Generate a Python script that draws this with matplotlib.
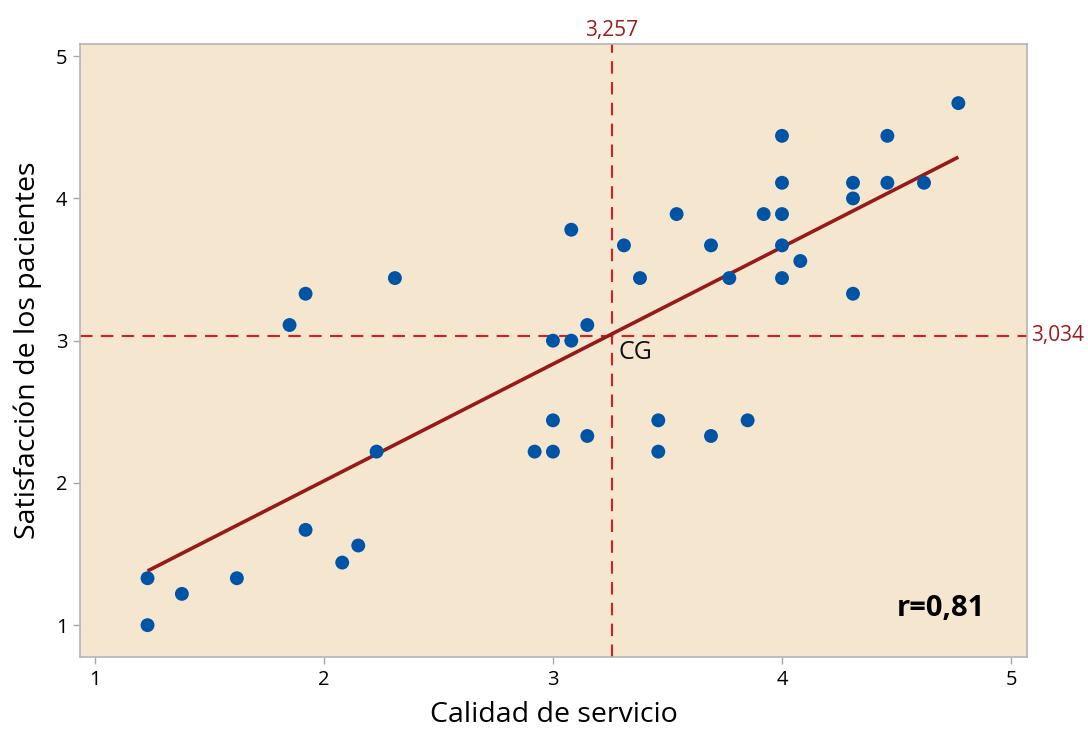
"""
Dispersion: Calidad de servicio vs Satisfaccion de los pacientes
"""

import numpy as np
import matplotlib

matplotlib.use("Agg")
import matplotlib.pyplot as plt

plt.rcParams["font.family"] = ["Open Sans", "DejaVu Sans"]

# Data
calidad = [
    1.23, 1.23, 1.38, 1.62, 1.85, 1.92, 1.92, 2.08, 2.15, 2.23, 2.31,
    2.92, 3.00, 3.00, 3.00, 3.08, 3.08, 3.15, 3.15, 3.31, 3.38, 3.46,
    3.46, 3.54, 3.69, 3.69, 3.77, 3.85, 3.92, 4.00, 4.00, 4.00, 4.00,
    4.00, 4.08, 4.31, 4.31, 4.31, 4.46, 4.46, 4.62, 4.77,
]
satisfaccion = [
    1.33, 1.00, 1.22, 1.33, 3.11, 3.33, 1.67, 1.44, 1.56, 2.22, 3.44,
    2.22, 3.00, 2.44, 2.22, 3.78, 3.00, 3.11, 2.33, 3.67, 3.44, 2.44,
    2.22, 3.89, 3.67, 2.33, 3.44, 2.44, 3.89, 4.44, 4.11, 3.89, 3.67,
    3.44, 3.56, 4.11, 4.00, 3.33, 4.44, 4.11, 4.11, 4.67,
]
cg_x = 3.257
cg_y = 3.034
r_text = "r=0,81"
ticks = [1, 2, 3, 4, 5]

BG = "#F5E6D0"
DOT = "#0054A6"
FIT = "#961A1A"
REF = "#D42020"
LABEL_RED = "#9B1C1C"

fig = plt.figure(figsize=(10.88, 7.31), dpi=100)
ax = fig.add_axes([0.0735, 0.101, 0.8705, 0.8385])
ax.set_facecolor(BG)

x = np.array(calidad)
y = np.array(satisfaccion)

# Least squares fit line
slope, intercept = np.polyfit(x, y, 1)
xs = np.array([x.min(), x.max()])
ax.plot(xs, slope * xs + intercept, color=FIT, lw=2.6, zorder=3,
        solid_capstyle="butt")

ax.scatter(x, y, s=100, color=DOT, edgecolors="none", zorder=4)

# Reference lines at the centre of gravity
ax.axvline(cg_x, color=REF, lw=1.5, ls=(0, (6, 4)), zorder=2)
ax.axhline(cg_y, color=REF, lw=1.5, ls=(0, (6, 4)), zorder=2)

ax.text(cg_x, 1.006, f"{cg_x:.3f}".replace(".", ","), transform=ax.get_xaxis_transform(),
        ha="center", va="bottom", color=LABEL_RED, fontsize=15)
ax.text(1.004, cg_y, f"{cg_y:.3f}".replace(".", ","), transform=ax.get_yaxis_transform(),
        ha="left", va="center", color=LABEL_RED, fontsize=15)
ax.text(cg_x + 0.03, cg_y - 0.03, "CG", ha="left", va="top", fontsize=18, color="#111111")
ax.text(4.695, 1.12, r_text, ha="center", va="center", fontsize=21,
        fontweight="bold", color="black")

ax.set_xlim(0.935, 5.07)
ax.set_ylim(0.775, 5.084)
ax.set_xticks(ticks)
ax.set_yticks(ticks)
ax.tick_params(length=5, width=1, color="#A8A8A8", labelsize=14.5, pad=4)

for spine in ax.spines.values():
    spine.set_color("#B4B4B4")
    spine.set_linewidth(1.2)

ax.set_xlabel("Calidad de servicio", fontsize=20.5, labelpad=8)
ax.set_ylabel("Satisfacción de los pacientes", fontsize=20.5, labelpad=10)

plt.savefig("out.png", dpi=100)
